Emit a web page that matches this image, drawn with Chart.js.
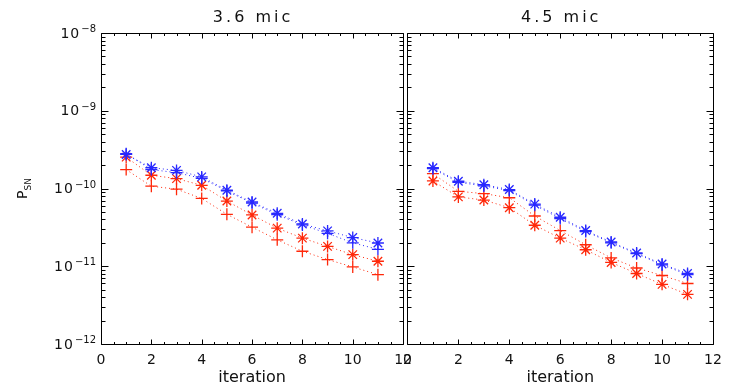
<!DOCTYPE html>
<html>
<head>
<meta charset="utf-8">
<script src="https://cdn.jsdelivr.net/npm/chart.js@4.4.0/dist/chart.umd.min.js"></script>
<style>
  body { margin: 0; background: #fff; }
  #wrap { position: relative; width: 736px; height: 387px; }
  #c1 { position: absolute; left: 0; top: 0; }
  #c2 { position: absolute; left: 395px; top: 0; }
</style>
</head>
<body>
<div id="wrap">
  <canvas id="c1" width="420" height="387"></canvas>
  <canvas id="c2" width="341" height="387"></canvas>
</div>
<script>
// iteration numbers on x
var iterations = [1, 2, 3, 4, 5, 6, 7, 8, 9, 10, 11];
var yDecades = [-12, -11, -10, -9, -8];
var panelTitles = ['3.6 mic', '4.5 mic'];

// 3.6 mic panel
var blue36Star = [2.74e-10, 1.85e-10, 1.71e-10, 1.41e-10, 9.5e-11, 6.7e-11, 4.8e-11, 3.5e-11, 2.85e-11, 2.34e-11, 1.99e-11];
var blue36Plus = [2.8e-10, 1.75e-10, 1.6e-10, 1.35e-10, 9.3e-11, 6.5e-11, 4.6e-11, 3.4e-11, 2.65e-11, 2.0e-11, 1.65e-11];
var red36Star  = [2.53e-10, 1.48e-10, 1.34e-10, 1.10e-10, 6.9e-11, 4.57e-11, 3.09e-11, 2.3e-11, 1.8e-11, 1.41e-11, 1.16e-11];
var red36Plus  = [1.75e-10, 1.07e-10, 9.8e-11, 7.45e-11, 4.66e-11, 3.18e-11, 2.19e-11, 1.56e-11, 1.22e-11, 9.8e-12, 7.8e-12];

// 4.5 mic panel
var blue45Star = [1.85e-10, 1.24e-10, 1.12e-10, 9.7e-11, 6.3e-11, 4.27e-11, 2.88e-11, 2.05e-11, 1.48e-11, 1.07e-11, 8.07e-12];
var blue45Plus = [1.8e-10, 1.2e-10, 1.08e-10, 9.4e-11, 6.1e-11, 4.1e-11, 2.8e-11, 2.0e-11, 1.45e-11, 1.04e-11, 7.8e-12];
var red45Star  = [1.25e-10, 7.8e-11, 7.1e-11, 5.66e-11, 3.37e-11, 2.3e-11, 1.63e-11, 1.12e-11, 8.07e-12, 5.85e-12, 4.35e-12];
var red45Plus  = [1.55e-10, 9.2e-11, 8.6e-11, 7.6e-11, 4.43e-11, 2.88e-11, 1.89e-11, 1.28e-11, 9.5e-12, 7.6e-12, 6.0e-12];

var BLUE = 'rgb(40,40,255)';
var RED = 'rgb(255,40,10)';
var FONT = "'DejaVu Sans', sans-serif";

function series(vals, color, style, r) {
  return {
    data: vals.map(function (v, i) { return { x: iterations[i], y: v }; }),
    borderColor: color,
    backgroundColor: color,
    borderWidth: 1,
    borderDash: [1, 3],
    pointStyle: style,
    pointRadius: r,
    pointBorderWidth: 1.3,
    pointBorderColor: color,
    fill: false,
    tension: 0
  };
}

// IDL style frame, inward ticks, log labels, titles
var idlAxes = {
  id: 'idlAxes',
  afterDraw: function (chart, args, opts) {
    var ctx = chart.ctx, a = chart.chartArea;
    var xs = chart.scales.x, ys = chart.scales.y;
    ctx.save();
    ctx.strokeStyle = '#000';
    ctx.lineWidth = 1;
    ctx.beginPath();
    var L = Math.round(a.left) + 0.5, R = Math.round(a.right) + 0.5;
    var T = Math.round(a.top) + 0.5, B = Math.round(a.bottom) + 0.5;
    ctx.rect(L, T, R - L, B - T);
    for (var v = 0; v <= 12.001; v += 0.5) {
      var px = Math.round(xs.getPixelForValue(v)) + 0.5;
      var len = (Math.abs(v % 2) < 0.01) ? 5 : 2.5;
      ctx.moveTo(px, B); ctx.lineTo(px, B - len);
      ctx.moveTo(px, T); ctx.lineTo(px, T + len);
    }
    yDecades.forEach(function (e) {
      for (var m = 1; m <= 9; m++) {
        if (e === -8 && m > 1) break;
        var py = Math.round(ys.getPixelForValue(m * Math.pow(10, e))) + 0.5;
        var l = m === 1 ? 7 : 4;
        ctx.moveTo(L, py); ctx.lineTo(L + l, py);
        ctx.moveTo(R, py); ctx.lineTo(R - l, py);
      }
    });
    ctx.stroke();

    ctx.fillStyle = '#111';
    // panel title
    ctx.font = '16px ' + FONT;
    ctx.letterSpacing = '3px';
    ctx.textAlign = 'center';
    ctx.textBaseline = 'middle';
    ctx.fillText(opts.title, (a.left + a.right) / 2 + 1, 18);
    ctx.letterSpacing = '0px';

    if (opts.yLabels) {
      yDecades.forEach(function (e) {
        var py = ys.getPixelForValue(Math.pow(10, e));
        var sup = '\u2212' + Math.abs(e);
        ctx.font = '10px ' + FONT;
        ctx.textAlign = 'right';
        ctx.textBaseline = 'alphabetic';
        var sw = ctx.measureText(sup).width;
        ctx.fillText(sup, 96, py - 1);
        ctx.font = '14px ' + FONT;
        ctx.letterSpacing = '1px';
        ctx.textBaseline = 'middle';
        ctx.fillText('10', 95 - sw, py + 1);
        ctx.letterSpacing = '0px';
      });
      // y title P_SN
      ctx.save();
      ctx.translate(22, 190);
      ctx.rotate(-Math.PI / 2);
      ctx.textAlign = 'left';
      ctx.textBaseline = 'alphabetic';
      ctx.font = '14px ' + FONT;
      ctx.fillText('P', -9, 5);
      var pw = ctx.measureText('P').width;
      ctx.font = '9px ' + FONT;
      ctx.fillText('SN', -9 + pw, 9);
      ctx.restore();
    }
    ctx.restore();
  }
};

function makeChart(id, sets, padLeft, padRight, title, yLabels) {
  return new Chart(document.getElementById(id), {
    type: 'line',
    data: { datasets: sets },
    options: {
      responsive: false,
      animation: false,
      devicePixelRatio: 1,
      layout: { padding: { left: padLeft, right: padRight, top: 33, bottom: 0 } },
      plugins: {
        legend: { display: false },
        tooltip: { enabled: false },
        idlAxes: { title: title, yLabels: yLabels }
      },
      scales: {
        x: {
          type: 'linear',
          min: 0, max: 12,
          grid: { display: false, drawTicks: false },
          border: { display: false },
          ticks: { stepSize: 2, color: '#111', padding: 8, font: { family: FONT, size: 14 } },
          title: { display: true, text: 'iteration', color: '#111', padding: { top: 0, bottom: 0 }, font: { family: FONT, size: 16 } },
          afterFit: function (s) { s.height = 43; }
        },
        y: {
          type: 'logarithmic',
          min: 1e-12, max: 1e-8,
          display: false
        }
      }
    },
    plugins: [idlAxes]
  });
}

makeChart('c1', [
  series(blue36Plus, BLUE, 'cross', 6),
  series(blue36Star, BLUE, 'star', 6),
  series(red36Star, RED, 'star', 6),
  series(red36Plus, RED, 'cross', 6)
], 101, 13, panelTitles[0], true);

makeChart('c2', [
  series(blue45Plus, BLUE, 'cross', 6),
  series(blue45Star, BLUE, 'star', 6),
  series(red45Plus, RED, 'cross', 6),
  series(red45Star, RED, 'star', 6)
], 12, 23, panelTitles[1], false);
</script>
</body>
</html>
